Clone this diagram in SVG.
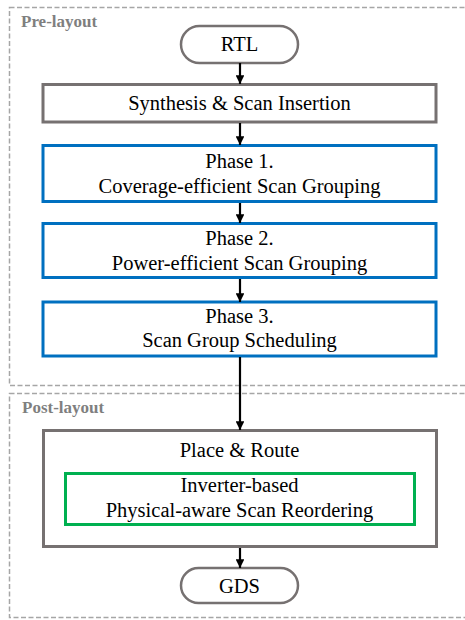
<svg xmlns="http://www.w3.org/2000/svg" width="465" height="620" viewBox="0 0 465 620">
<defs>
<marker id="ah" viewBox="0 0 10 10" refX="10" refY="5" markerWidth="4" markerHeight="4" orient="auto" markerUnits="strokeWidth">
<path d="M0,0 L10,5 L0,10 z" fill="#000"/>
</marker>
<style>
.grp{fill:none;stroke:#a6a6a6;stroke-width:1.5;stroke-dasharray:5 2.5}
.lbl{font-weight:bold;font-size:17px;fill:#7f7f7f}
.t{font-size:20.5px;fill:#000;text-anchor:middle}
.gray{fill:#fff;stroke:#767171;stroke-width:3}
.pill{fill:#fff;stroke:#767171;stroke-width:2.5}
.blue{fill:#fff;stroke:#0070C0;stroke-width:3}
.green{fill:#fff;stroke:#00B050;stroke-width:3}
.c{stroke:#000;stroke-width:2.2;fill:none;marker-end:url(#ah)}
</style>
</defs>
<rect width="465" height="620" fill="#fff"/>
<g font-family="Liberation Serif, DejaVu Serif, serif">
<g id="pre-layout">
<rect class="grp" x="9.5" y="7.5" width="470" height="378"/>
<text class="lbl" x="21" y="27">Pre-layout</text>
</g>
<g id="post-layout">
<rect class="grp" x="9.5" y="393.5" width="470" height="224"/>
<text class="lbl" x="22" y="413">Post-layout</text>
</g>
<g id="rtl">
<rect class="pill" x="181" y="26" width="117" height="37" rx="18.5"/>
<text class="t" x="239.5" y="51">RTL</text>
</g>
<g id="synthesis">
<rect class="gray" x="43" y="84.5" width="393" height="37.5"/>
<text class="t" x="239.5" y="110">Synthesis &amp; Scan Insertion</text>
</g>
<g id="phase1">
<rect class="blue" x="43" y="145.5" width="393" height="56"/>
<text class="t" x="239.5" y="168">Phase 1.</text>
<text class="t" x="239.5" y="193">Coverage-efficient Scan Grouping</text>
</g>
<g id="phase2">
<rect class="blue" x="43" y="223.5" width="393" height="54"/>
<text class="t" x="239.5" y="245">Phase 2.</text>
<text class="t" x="239.5" y="270">Power-efficient Scan Grouping</text>
</g>
<g id="phase3">
<rect class="blue" x="43" y="302" width="393" height="54"/>
<text class="t" x="239.5" y="323">Phase 3.</text>
<text class="t" x="239.5" y="347">Scan Group Scheduling</text>
</g>
<g id="place-route">
<rect class="gray" x="43.5" y="430.5" width="393" height="116"/>
<text class="t" x="239.5" y="457">Place &amp; Route</text>
</g>
<g id="reorder">
<rect class="green" x="65.5" y="473.5" width="349" height="51"/>
<text class="t" x="239.5" y="492">Inverter-based</text>
<text class="t" x="239.5" y="517">Physical-aware Scan Reordering</text>
</g>
<g id="gds">
<rect class="pill" x="181" y="568" width="117" height="35" rx="17.5"/>
<text class="t" x="239.5" y="593">GDS</text>
</g>
</g>
<g id="connectors">
<line class="c" x1="240" y1="63" x2="240" y2="84"/>
<line class="c" x1="240" y1="123" x2="240" y2="145"/>
<line class="c" x1="240" y1="203" x2="240" y2="223"/>
<line class="c" x1="240" y1="279" x2="240" y2="302"/>
<line class="c" x1="240" y1="357" x2="240" y2="430"/>
<line class="c" x1="240" y1="548" x2="240" y2="568"/>
</g>
</svg>
